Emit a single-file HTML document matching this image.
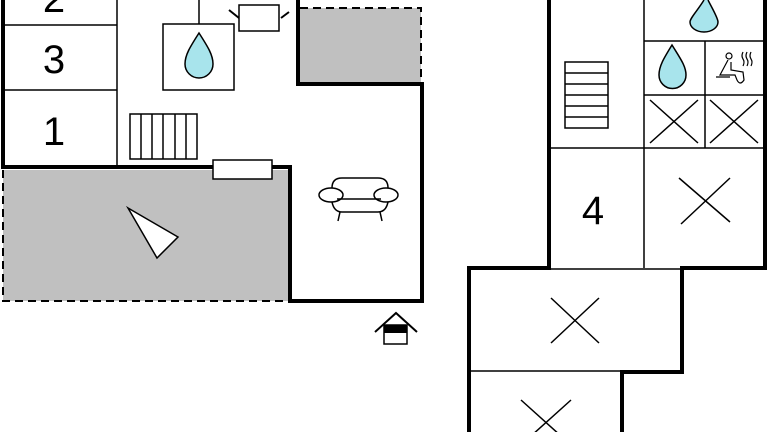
<!DOCTYPE html>
<html><head><meta charset="utf-8"><style>html,body{margin:0;padding:0;background:#fff}svg{display:block}</style></head>
<body>
<svg width="768" height="432" viewBox="0 0 768 432" xmlns="http://www.w3.org/2000/svg" fill="none" stroke="#000">
<rect x="3" y="170" width="287" height="131" fill="#c0c0c0" stroke="none"/>
<rect x="300" y="8" width="121" height="76" fill="#c0c0c0" stroke="none"/>
<path d="M3 170 V301 H290" stroke-width="2" stroke-dasharray="8,5"/>
<path d="M300 8 H421 V84" stroke-width="2" stroke-dasharray="8,5"/>
<path d="M3 0 V167 H290 V301 H422 V84 H298 V0" stroke-width="4"/>
<path d="M3 25 H117 M3 90 H117 M117 0 V167" stroke-width="1.5"/>
<rect x="163" y="24" width="71" height="66" stroke-width="1.5"/>
<path d="M199 0 V24" stroke-width="1.5"/>
<path d="M199 33 C190 47 185 55 185 64 A14 14 0 0 0 213 64 C213 55 208 47 199 33 Z" fill="#a8e4ec" stroke-width="1.5"/>
<rect x="239" y="5" width="40" height="26" stroke-width="1.5"/>
<path d="M229 10 L239 18 M289 12 L281 18" stroke-width="2"/>
<rect x="130" y="114" width="67" height="45" stroke-width="1.5"/>
<path d="M141 114V159 M152 114V159 M163 114V159 M175 114V159 M186 114V159" stroke-width="1.5"/>
<rect x="213" y="160" width="59" height="19" fill="#fff" stroke-width="1.5"/>
<polygon points="128,208 178,237 157,258" fill="#fff" stroke-width="1.5"/>
<g stroke-width="1.5">
<path d="M332 188 Q332 178 342 178 H378 Q388 178 388 188"/>
<ellipse cx="331" cy="195" rx="12" ry="7" fill="#fff"/>
<ellipse cx="386" cy="195" rx="12" ry="7" fill="#fff"/>
<path d="M337 199 H381"/>
<path d="M332 202 Q334 212 342 212 H378 Q386 212 388 202"/>
<path d="M340 212 L338 221 M380 212 L382 221"/>
</g>
<path d="M375 332 L396 313 L417 332" stroke-width="2"/>
<rect x="384" y="325" width="23" height="19" stroke-width="1.5"/>
<rect x="384" y="325" width="23" height="8" fill="#000" stroke="none"/>
<path d="M549 0 V268 H469 V432 M622 432 V372 H682 V268 H765 V0" stroke-width="4"/>
<path d="M644 0 V268 M549 148 H765 M644 41 H765 M644 95 H765 M705 41 V148 M469 371 H622 M549 269 H682" stroke-width="1.5"/>
<rect x="565" y="62" width="43" height="66" stroke-width="1.5"/>
<path d="M565 73H608 M565 84H608 M565 95H608 M565 106H608 M565 117H608" stroke-width="1.5"/>
<path d="M704 0 C698 10 690 18 690 22 A14 10 0 0 0 718 22 C718 18 712 8 708 0" fill="#a8e4ec" stroke-width="1.5"/>
<path d="M672 45 C664 58 659 66 659 75 A13 13 0 0 0 686 75 C686 66 680 58 672 45 Z" fill="#a8e4ec" stroke-width="1.5"/>
<g stroke-width="1.2">
<circle cx="729" cy="56" r="3"/>
<path d="M728 60 L720 75 H735 L737 80 Q740 86 744 80 L743 72 L731 70 L731 62 M716 77 H730"/>
<path d="M743 52 q-2 4 0 7 q2 3 0 7 M747 52 q-2 4 0 7 q2 3 0 7 M751 52 q-2 4 0 7 q2 3 0 7"/>
</g>
<path d="M650 100 L698 143 M698 100 L650 143 M710 100 L758 143 M758 100 L710 143" stroke-width="1.5"/>
<path d="M679 178 L730 222 M730 178 L681 224" stroke-width="1.5"/>
<path d="M551 298 L599 343 M599 298 L551 343" stroke-width="1.5"/>
<path d="M521 400 L571 445 M571 400 L521 445" stroke-width="1.5"/>
<g fill="#000" stroke="none" font-family="Liberation Sans, sans-serif" font-size="40" text-anchor="middle">
<text x="54" y="12">2</text>
<text x="54" y="73">3</text>
<text x="54" y="145">1</text>
<text x="593" y="224">4</text>
</g>
</svg>
</body></html>
